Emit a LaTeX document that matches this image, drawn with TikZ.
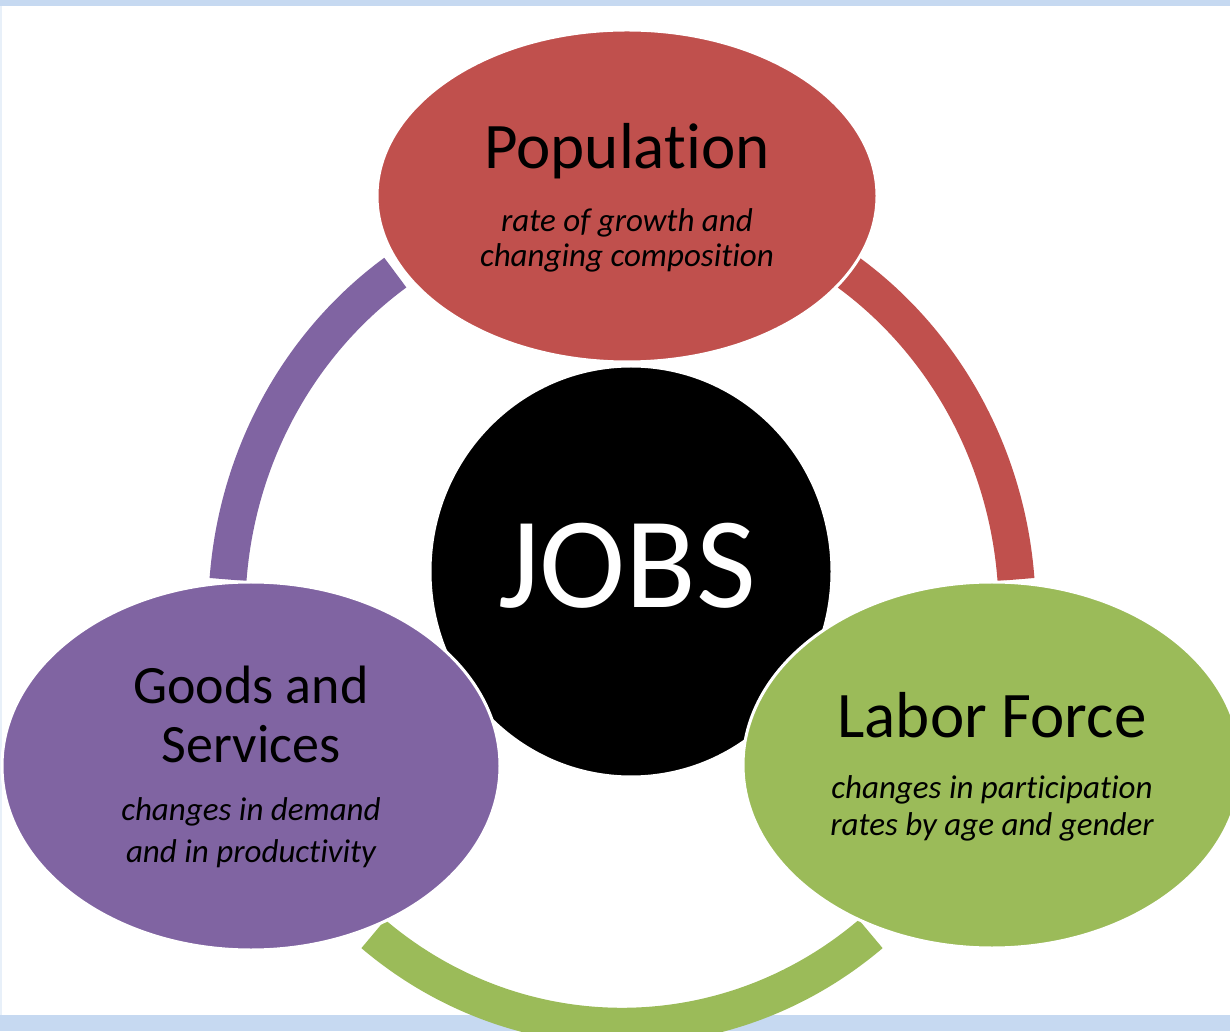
\documentclass[tikz,border=0pt]{standalone}
\usepackage{fontspec}
\setmainfont{Carlito}[Ligatures=NoCommon]
\usetikzlibrary{shapes.geometric}
\definecolor{popred}{HTML}{C0504D}
\definecolor{laborgreen}{HTML}{9BBB59}
\definecolor{goodspurple}{HTML}{8064A2}
\definecolor{bandblue}{HTML}{C6D9F1}
\begin{document}
\begin{tikzpicture}[x=1pt,y=1pt,
    ringarc/.style={line width=37pt},
    blob/.style={ellipse,draw=white,line width=3pt,inner sep=0pt},
    title/.style={anchor=base,font=\fontsize{65}{70}\selectfont},
    note/.style={anchor=base,font=\fontsize{33}{36}\selectfont\itshape}]
  \useasboundingbox (0,0) rectangle (1230,1031);
  \clip (0,0) rectangle (1230,1031);
  \fill[white] (0,0) rectangle (1230,1031);
  \fill[bandblue] (0,1025) rectangle (1230,1031);
  \fill[bandblue] (0,0) rectangle (1230,16);
  \fill[bandblue!40] (0,16) rectangle (1.5,1025);
  \coordinate (ring) at (622,419);
  \begin{scope}[ringarc]
    \draw[popred] ([shift={(55:395.2pt and 414.3pt)}]ring) arc[start angle=55,end angle=4.5,x radius=395.2pt,y radius=414.3pt];
    \draw[goodspurple] ([shift={(125:395.2pt and 414.3pt)}]ring) arc[start angle=125,end angle=175.5,x radius=395.2pt,y radius=414.3pt];
    \draw[laborgreen] ([shift={(231:395.2pt and 414.3pt)}]ring) arc[start angle=231,end angle=309,x radius=395.2pt,y radius=414.3pt];
  \end{scope}
  \node[blob,fill=black,minimum width=402pt,minimum height=411pt] (jobs) at (631,459.5) {};
  \node[blob,fill=popred,minimum width=500pt,minimum height=332pt] (pop) at (627,835) {};
  \node[blob,fill=goodspurple,minimum width=498pt,minimum height=368pt] (goods) at (251,265) {};
  \node[blob,fill=laborgreen,minimum width=498pt,minimum height=366pt] (labor) at (992,266) {};
  \node[title] (poptitle) at (627,862) {Population};
  \node[note] (popnote1) at (627,799) {rate of growth and};
  \node[note] (popnote2) at (627,764) {changing composition};
  \node[anchor=base,text=white,font=\fontsize{130}{140}\selectfont] (jobstitle) at (627,423) {JOBS};
  \node[title,font=\fontsize{54}{60}\selectfont] (goodstitle1) at (251,328) {Goods and};
  \node[title,font=\fontsize{54}{60}\selectfont] (goodstitle2) at (251,269) {Services};
  \node[note] (goodsnote1) at (251,211) {changes in demand};
  \node[note] (goodsnote2) at (251,169) {and in productivity};
  \node[title] (labortitle) at (992,294) {Labor Force};
  \node[note] (labornote1) at (992,233) {changes in participation};
  \node[note] (labornote2) at (992,196) {rates by age and gender};
\end{tikzpicture}
\end{document}
